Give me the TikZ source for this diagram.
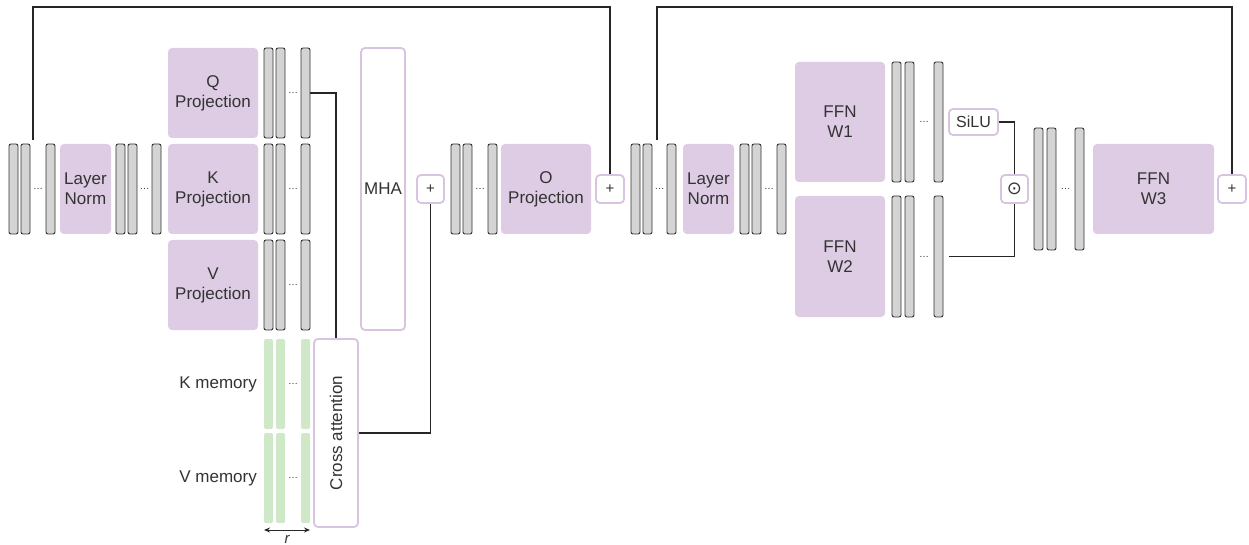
\documentclass[tikz,border=0pt]{standalone}
\usepackage{fontspec}
\setmainfont{Liberation Sans}
\newfontfamily\symfont{DejaVu Sans}
\usetikzlibrary{arrows.meta}
\definecolor{pfill}{HTML}{DDCCE4}
\definecolor{pline}{HTML}{D8C4E0}
\definecolor{gfill}{HTML}{D4D4D4}
\definecolor{gline}{HTML}{333333}
\definecolor{mfill}{HTML}{CFE8C8}
\definecolor{txt}{HTML}{333333}
\tikzset{
  graybar/.style={draw=gline, fill=gfill, line width=0.9pt, rounded corners=2pt, minimum width=9pt, inner sep=0pt},
  greenbar/.style={draw=none, fill=mfill, rounded corners=1.5pt, minimum width=9pt, inner sep=0pt},
  dotsty/.style={inner sep=0pt, font=\fontsize{10}{10}\selectfont, text=txt},
  pbox/.style={fill=pfill, draw=none, rounded corners=4pt, inner sep=0pt, align=center, text=txt, font=\fontsize{17}{20}\selectfont},
  wbox/.style={fill=white, draw=pline, line width=1.8pt, rounded corners=4pt, inner sep=0pt, align=center, text=txt, font=\fontsize{17}{20}\selectfont},
  conn/.style={draw=black!85, line width=1.3pt},
  lbl/.style={inner sep=0pt, text=txt, font=\fontsize{17}{20}\selectfont}
}
\newcommand\threebars[7]{%
  \node[#7, minimum height=#6pt] (#1a) at ({#2+4.5},#5) {};
  \node[#7, minimum height=#6pt] (#1b) at ({#3+4.5},#5) {};
  \node[#7, minimum height=#6pt] (#1c) at ({#4+4.5},#5) {};
  \node[dotsty] (#1d) at ({(#3+9+#4)/2},#5) {\ldots};
}
\begin{document}
\begin{tikzpicture}[x=1pt,y=-1pt]
\useasboundingbox (0,0) rectangle (1249,545);
% input group
\threebars{ga}{9}{21}{46}{189}{90}{graybar}
\node[pbox, minimum width=51pt, minimum height=90pt] (ln1) at (85.5,189) {Layer\\Norm};
\threebars{gb}{116}{128}{152}{189}{90}{graybar}
% projections
\node[pbox, minimum width=90pt, minimum height=90pt] (qp) at (213,93) {Q\\Projection};
\node[pbox, minimum width=90pt, minimum height=90pt] (kp) at (213,189) {K\\Projection};
\node[pbox, minimum width=90pt, minimum height=90pt] (vp) at (213,285) {V\\Projection};
\threebars{q}{264}{276}{301}{93}{90}{graybar}
\threebars{k}{264}{276}{301}{189}{90}{graybar}
\threebars{v}{264}{276}{301}{285}{90}{graybar}
% MHA
\node[wbox, minimum width=44pt, minimum height=282pt] (mha) at (383,189) {MHA};
% memories
\threebars{km}{264}{276}{301}{384}{90}{greenbar}
\threebars{vm}{264}{276}{301}{478}{90}{greenbar}
\node[lbl, anchor=east] (kml) at (257,384) {K memory};
\node[lbl, anchor=east] (vml) at (257,478) {V memory};
\node[wbox, minimum width=44pt, minimum height=188pt] (ca) at (336,433) {};
\node[lbl, rotate=90] (cat) at (336,433) {Cross attention};
\coordinate (ra) at (264,530);
\coordinate (rb) at (310,530);
\draw[conn, line width=1pt, {Stealth[length=6pt,width=5pt]}-{Stealth[length=6pt,width=5pt]}] (ra) -- (rb);
\node[lbl, font=\itshape\fontsize{15}{15}\selectfont] (rl) at (287,539) {r};
% plus 1
\node[wbox, minimum width=27pt, minimum height=28pt, font=\fontsize{15}{15}\selectfont] (plus1) at (430.5,189) {+};
\threebars{gc}{451}{463}{488}{189}{90}{graybar}
\node[pbox, minimum width=90pt, minimum height=90pt] (op) at (546,189) {O\\Projection};
\node[wbox, minimum width=28pt, minimum height=28pt, font=\fontsize{15}{15}\selectfont] (plus2) at (610,189) {+};
% second half
\threebars{gd}{631}{643}{667}{189}{90}{graybar}
\node[pbox, minimum width=51pt, minimum height=90pt] (ln2) at (708.5,189) {Layer\\Norm};
\threebars{ge}{740}{752}{777}{189}{90}{graybar}
\node[pbox, minimum width=90pt, minimum height=120pt] (w1) at (840,122) {FFN\\W1};
\node[pbox, minimum width=90pt, minimum height=121pt] (w2) at (840,256.5) {FFN\\W2};
\threebars{ba}{892}{905}{934}{122}{120}{graybar}
\threebars{bb}{892}{905}{934}{256.5}{121}{graybar}
\node[wbox, minimum width=49pt, minimum height=26pt, font=\fontsize{16}{16}\selectfont] (silu) at (973.5,122) {SiLU};
\node[wbox, minimum width=27pt, minimum height=28pt, font=\symfont\fontsize{18}{18}\selectfont] (odot) at (1014.5,189) {⊙};
\threebars{gf}{1034}{1047}{1075}{189}{122}{graybar}
\node[pbox, minimum width=121pt, minimum height=90pt] (w3) at (1153.5,189) {FFN\\W3};
\node[wbox, minimum width=28pt, minimum height=28pt, font=\fontsize{15}{15}\selectfont] (plus3) at (1232,189) {+};
% connectors
\coordinate (s1) at (33,140);
\coordinate (t1) at (33,7);
\draw[conn] (s1) -- (t1) -| (plus2.north);
\coordinate (s2) at (657,140);
\coordinate (t2) at (657,7);
\draw[conn] (s2) -- (t2) -| (plus3.north);
\draw[conn] (qc.east) -| (ca.north);
\draw[conn] (ca.east) -| (plus1.south);
\draw[conn] (silu.east) -| (odot.north);
\coordinate (w2o) at (949,256.5);
\draw[conn] (w2o) -| (odot.south);
\end{tikzpicture}
\end{document}
